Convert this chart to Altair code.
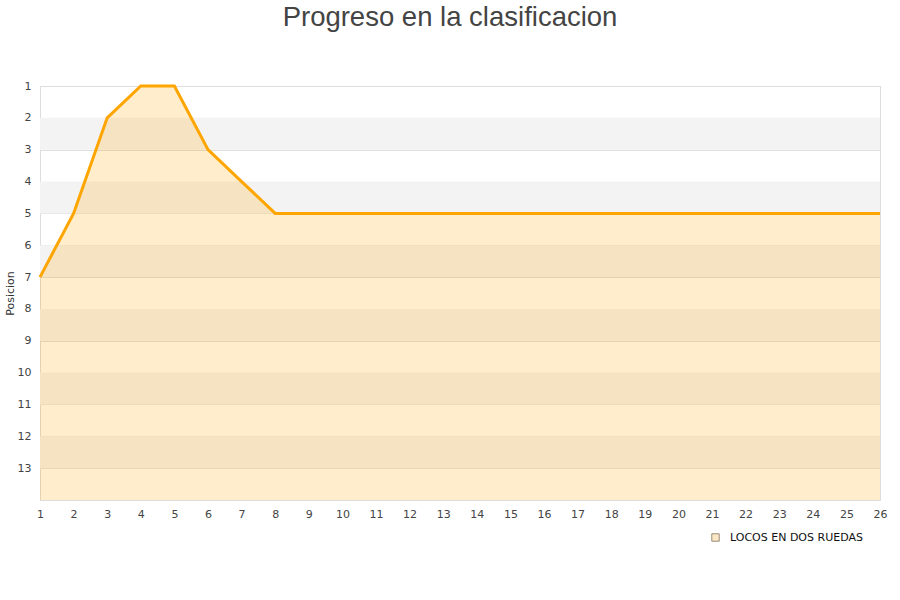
import altair as alt
import pandas as pd

# Standings per round
rounds = list(range(1, 27))
positions = [7, 5, 2, 1, 1, 3, 4, 5, 5, 5, 5, 5, 5, 5, 5, 5, 5, 5, 5, 5, 5, 5, 5, 5, 5, 5]
team = "LOCOS EN DOS RUEDAS"

# Alternating shaded bands on the position axis
band_starts = [2, 4, 6, 8, 10, 12]
band_ends = [3, 5, 7, 9, 11, 13]

y_ticks = list(range(1, 14))

df = pd.DataFrame({"Jornada": rounds, "Posicion": positions, "Equipo": team, "Fondo": 14})
bands = pd.DataFrame({"y0": band_starts, "y1": band_ends})

y_scale = alt.Scale(domain=[1, 14], reverse=True, nice=False, zero=False)
x_scale = alt.Scale(domain=[1, 26], nice=False, zero=False)

x_axis = alt.Axis(values=rounds, title=None, grid=False, domain=True,
                  domainColor="#dddddd", ticks=False, labelPadding=8,
                  labelFontSize=11, labelColor="#444444", labelFlush=False,
                  labelOverlap=False)
y_axis = alt.Axis(values=y_ticks, title="Posicion", grid=True, gridColor="#dedede",
                  domain=False, ticks=False, labelPadding=9, labelFontSize=11,
                  labelColor="#444444", labelOverlap=False, titleFontSize=11,
                  titleFontWeight="normal", titleColor="#333333", titleX=-25)

band_layer = alt.Chart(bands).mark_rect(color="#f3f3f3").encode(
    x=alt.value(0),
    x2=alt.value(840),
    y=alt.Y("y0:Q", scale=y_scale, axis=y_axis),
    y2="y1:Q",
)

area_layer = alt.Chart(df).mark_area(color="#ffa500", opacity=0.2).encode(
    x=alt.X("Jornada:Q", scale=x_scale, axis=x_axis),
    y=alt.Y("Posicion:Q", scale=y_scale, axis=y_axis),
    y2="Fondo:Q",
)

line_layer = alt.Chart(df).mark_line(color="#ffa500", strokeWidth=3).encode(
    x=alt.X("Jornada:Q", scale=x_scale, axis=x_axis),
    y=alt.Y("Posicion:Q", scale=y_scale, axis=y_axis),
)

# Legend entry for the team series
legend_layer = alt.Chart(df.head(1)).mark_point(shape="square", opacity=0).encode(
    x=alt.X("Jornada:Q", scale=x_scale, axis=x_axis),
    y=alt.Y("Posicion:Q", scale=y_scale, axis=y_axis),
    fill=alt.Fill("Equipo:N",
                  scale=alt.Scale(domain=[team], range=["#fde8c6"]),
                  legend=alt.Legend(title=None, orient="none", legendX=670, legendY=446,
                                    symbolType="square", symbolSize=55, symbolOpacity=1,
                                    symbolStrokeColor="#9a8a78", symbolStrokeWidth=1,
                                    labelOffset=9, labelFontSize=11,
                                    labelColor="#111111")),
)

chart = alt.layer(band_layer, area_layer, line_layer, legend_layer).properties(
    width=840,
    height=414,
    title=alt.TitleParams("Progreso en la clasificacion", fontSize=27.5, fontWeight="normal",
                          font="Liberation Sans", color="#444444", anchor="middle",
                          dx=-10, offset=49),
    autosize=alt.AutoSizeParams(type="none"),
    padding={"left": 40, "top": 86, "right": 20, "bottom": 100},
).configure_view(stroke="#dddddd").configure(font="DejaVu Sans")

chart.save("out.html", embed_options={"renderer": "svg", "actions": False})
